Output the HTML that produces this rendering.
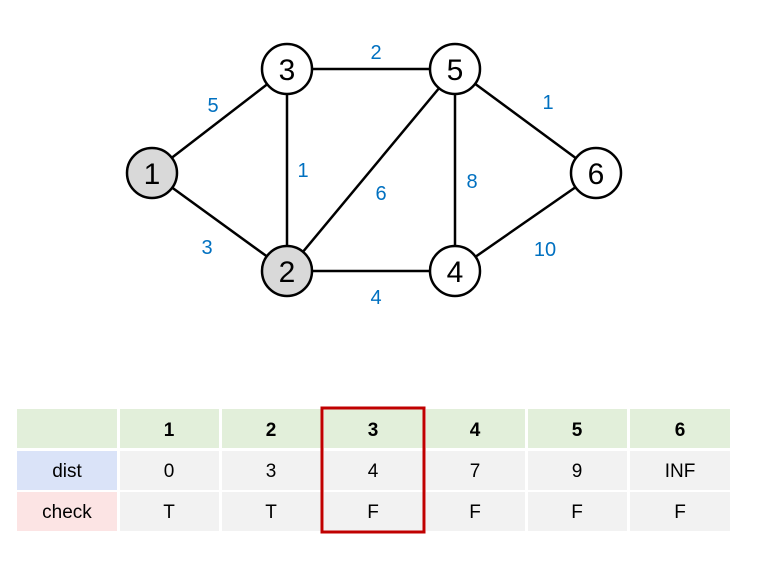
<!DOCTYPE html>
<html><head><style>body{margin:0;background:#fff}</style></head><body>
<svg width="759" height="557" xmlns="http://www.w3.org/2000/svg" font-family="Liberation Sans, sans-serif">
<g stroke="#000" stroke-width="2.5">
<line x1="152" y1="173" x2="287" y2="69"/>
<line x1="152" y1="173" x2="287" y2="271"/>
<line x1="287" y1="69" x2="287" y2="271"/>
<line x1="287" y1="69" x2="455" y2="69"/>
<line x1="287" y1="271" x2="455" y2="69"/>
<line x1="287" y1="271" x2="455" y2="271"/>
<line x1="455" y1="69" x2="455" y2="271"/>
<line x1="455" y1="69" x2="596" y2="173"/>
<line x1="455" y1="271" x2="596" y2="173"/>
</g>
<g stroke="#000" stroke-width="2.5">
<circle cx="152" cy="173" r="25" fill="#d9d9d9"/>
<circle cx="287" cy="271" r="25" fill="#d9d9d9"/>
<circle cx="287" cy="69" r="25" fill="#fff"/>
<circle cx="455" cy="69" r="25" fill="#fff"/>
<circle cx="455" cy="271" r="25" fill="#fff"/>
<circle cx="596" cy="173" r="25" fill="#fff"/>
</g>
<g font-size="30" text-anchor="middle" fill="#000">
<text x="152" y="184">1</text><text x="287" y="282">2</text><text x="287" y="80">3</text>
<text x="455" y="80">5</text><text x="455" y="282">4</text><text x="596" y="184">6</text>
</g>
<g font-size="20" text-anchor="middle" fill="#0070c0">
<text x="213" y="112">5</text><text x="207" y="254">3</text><text x="303" y="177">1</text>
<text x="376" y="59">2</text><text x="381" y="200">6</text><text x="376" y="304">4</text>
<text x="472" y="188">8</text><text x="548" y="109">1</text><text x="545" y="256">10</text>
</g>
<g>
<rect x="17" y="409" width="100" height="39" fill="#e2efda"/>
<rect x="120" y="409" width="99" height="39" fill="#e2efda"/>
<rect x="222" y="409" width="99" height="39" fill="#e2efda"/>
<rect x="324" y="409" width="99" height="39" fill="#e2efda"/>
<rect x="426" y="409" width="99" height="39" fill="#e2efda"/>
<rect x="528" y="409" width="99" height="39" fill="#e2efda"/>
<rect x="630" y="409" width="100" height="39" fill="#e2efda"/>
<rect x="17" y="451" width="100" height="39" fill="#dae3f8"/>
<rect x="17" y="492" width="100" height="39" fill="#fce4e4"/>
<g fill="#f2f2f2">
<rect x="120" y="451" width="99" height="39"/><rect x="222" y="451" width="99" height="39"/><rect x="324" y="451" width="99" height="39"/><rect x="426" y="451" width="99" height="39"/><rect x="528" y="451" width="99" height="39"/><rect x="630" y="451" width="100" height="39"/>
<rect x="120" y="492" width="99" height="39"/><rect x="222" y="492" width="99" height="39"/><rect x="324" y="492" width="99" height="39"/><rect x="426" y="492" width="99" height="39"/><rect x="528" y="492" width="99" height="39"/><rect x="630" y="492" width="100" height="39"/>
</g>
</g>
<g font-size="19" text-anchor="middle" fill="#000">
<g font-weight="bold">
<text x="169" y="436">1</text><text x="271" y="436">2</text><text x="373" y="436">3</text><text x="475" y="436">4</text><text x="577" y="436">5</text><text x="680" y="436">6</text>
</g>
<text x="67" y="477">dist</text><text x="169" y="477">0</text><text x="271" y="477">3</text><text x="373" y="477">4</text><text x="475" y="477">7</text><text x="577" y="477">9</text><text x="680" y="477">INF</text>
<text x="67" y="518">check</text><text x="169" y="518">T</text><text x="271" y="518">T</text><text x="373" y="518">F</text><text x="475" y="518">F</text><text x="577" y="518">F</text><text x="680" y="518">F</text>
</g>
<rect x="322" y="408" width="102" height="124" fill="none" stroke="#c00000" stroke-width="3"/>
</svg>
</body></html>
